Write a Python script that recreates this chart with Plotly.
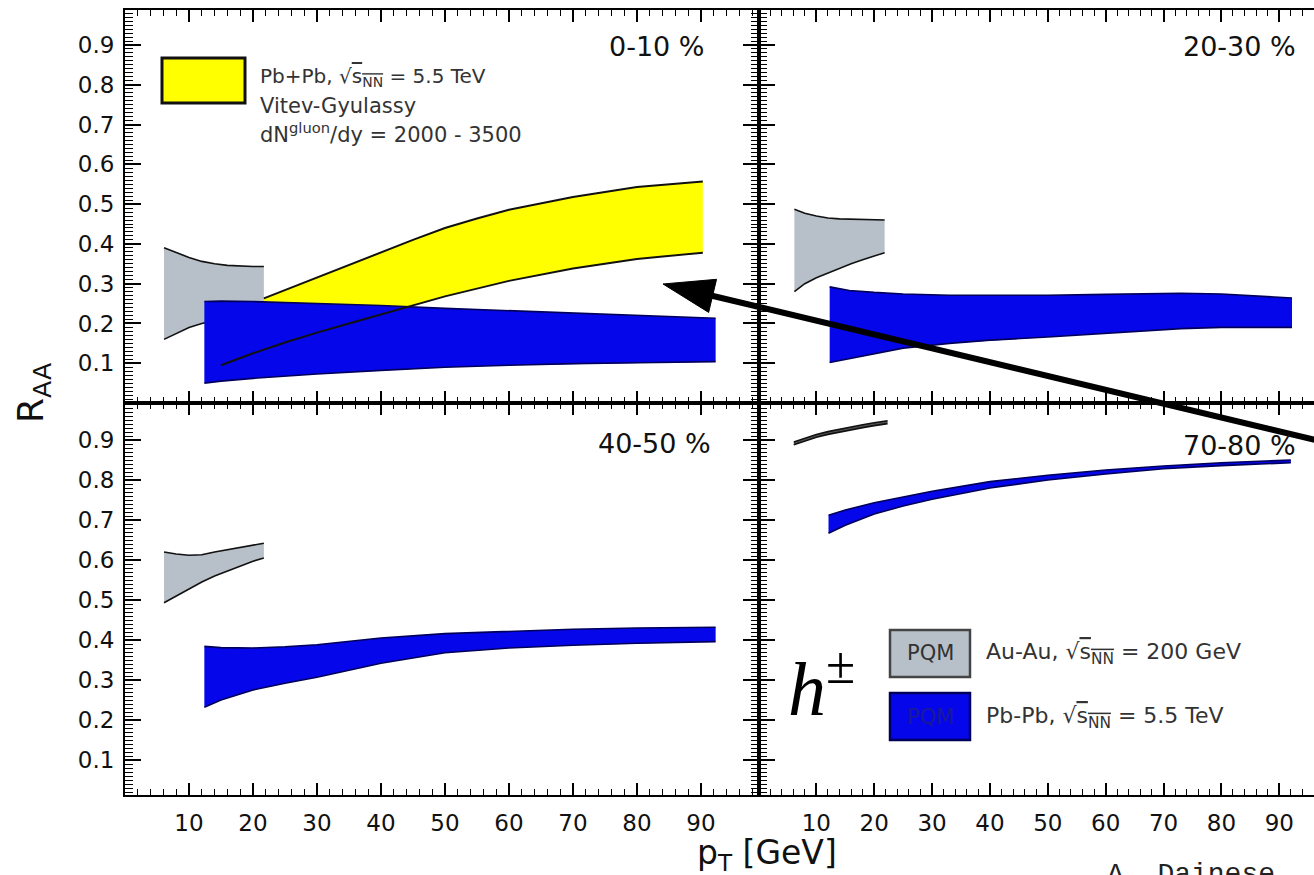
import plotly.graph_objects as go

# ---------------- data ----------------
# 0-10 %
auau_010_pt = [6.1, 8, 10, 12, 14, 16, 18, 20, 21.7]
auau_010_hi = [0.39, 0.378, 0.366, 0.356, 0.35, 0.346, 0.344, 0.343, 0.343]
auau_010_lo = [0.16, 0.175, 0.19, 0.2, 0.207, 0.212, 0.216, 0.22, 0.223]
pbpb_010_pt = [12.4, 15, 20, 30, 40, 50, 60, 70, 80, 92.3]
pbpb_010_hi = [0.255, 0.256, 0.255, 0.25, 0.245, 0.238, 0.232, 0.226, 0.22, 0.213]
pbpb_010_lo = [0.05, 0.055, 0.062, 0.073, 0.082, 0.09, 0.095, 0.099, 0.101, 0.104]
vg_hi_pt = [21.7, 25, 30, 35, 40, 45, 50, 55, 60, 70, 80, 90.3]
vg_hi = [0.263, 0.284, 0.316, 0.347, 0.378, 0.41, 0.44, 0.464, 0.486, 0.518, 0.543, 0.557]
vg_lo_pt = [15, 20, 25, 30, 35, 40, 45, 50, 60, 70, 80, 90.3]
vg_lo = [0.095, 0.125, 0.152, 0.177, 0.2, 0.222, 0.245, 0.268, 0.307, 0.338, 0.362, 0.378]

# 20-30 %
auau_2030_pt = [6.2, 8, 10, 12, 14, 16, 18, 20, 21.8]
auau_2030_hi = [0.487, 0.477, 0.47, 0.465, 0.463, 0.462, 0.461, 0.46, 0.46]
auau_2030_lo = [0.28, 0.3, 0.315, 0.327, 0.34, 0.35, 0.36, 0.37, 0.378]
pbpb_2030_pt = [12.3, 15.7, 20, 25, 33, 40, 50, 60, 73, 80, 88, 92.2]
pbpb_2030_hi = [0.292, 0.283, 0.278, 0.274, 0.271, 0.271, 0.271, 0.273, 0.276, 0.274, 0.268, 0.264]
pbpb_2030_lo = [0.102, 0.112, 0.125, 0.138, 0.15, 0.158, 0.166, 0.175, 0.187, 0.19, 0.19, 0.19]

# 40-50 %
auau_4050_pt = [6.1, 8, 10, 12, 14, 16, 18, 20, 21.7]
auau_4050_hi = [0.62, 0.615, 0.612, 0.613, 0.62, 0.626, 0.632, 0.638, 0.642]
auau_4050_lo = [0.493, 0.51, 0.527, 0.545, 0.56, 0.573, 0.585, 0.597, 0.605]
pbpb_4050_pt = [12.4, 15, 20, 25, 30, 35, 40, 50, 60, 70, 80, 92.3]
pbpb_4050_hi = [0.384, 0.381, 0.38, 0.383, 0.388, 0.396, 0.405, 0.416, 0.422, 0.427, 0.43, 0.432]
pbpb_4050_lo = [0.232, 0.25, 0.275, 0.292, 0.307, 0.325, 0.342, 0.368, 0.38, 0.387, 0.392, 0.396]

# 70-80 %
auau_7080_pt = [6.1, 8, 10, 12, 14, 16, 18, 20, 22.3]
auau_7080_hi = [0.895, 0.905, 0.914, 0.921, 0.927, 0.933, 0.938, 0.943, 0.948]
auau_7080_lo = [0.888, 0.898, 0.907, 0.914, 0.92, 0.926, 0.931, 0.936, 0.941]
pbpb_7080_pt = [12.1, 15, 20, 25, 30, 40, 50, 60, 70, 80, 92]
pbpb_7080_hi = [0.712, 0.725, 0.743, 0.758, 0.772, 0.796, 0.812, 0.825, 0.835, 0.843, 0.85]
pbpb_7080_lo = [0.667, 0.687, 0.715, 0.735, 0.752, 0.78, 0.80, 0.815, 0.828, 0.836, 0.843]

panel_labels = ["0-10 %", "20-30 %", "40-50 %", "70-80 %"]
x_tick_vals = [10, 20, 30, 40, 50, 60, 70, 80, 90]
x_tick_text = ["10", "20", "30", "40", "50", "60", "70", "80", "90"]
y_tick_vals = [0.1, 0.2, 0.3, 0.4, 0.5, 0.6, 0.7, 0.8, 0.9]
y_tick_text = ["0.1", "0.2", "0.3", "0.4", "0.5", "0.6", "0.7", "0.8", "0.9"]

# ---------------- styling ----------------
W, H = 1314, 875
ML, MR, MT, MB = 125, 0, 10, 80
PW, PH = W - ML - MR, H - MT - MB


def X(px):
    return (px - ML) / PW


def Y(py):
    return (H - MB - py) / PH


x_split = X(758.5)
y_split = Y(403)

YELLOW = "#ffff00"
GRAY = "#b7c0c8"
BLUE = "#0606ea"
NAVY = "#00005a"
TXT = "#111111"
SANS = "DejaVu Sans"

fig = go.Figure()


def band(pt, hi, lo, color, edge, xa, ya, edge_w=1.6, edges=True):
    fig.add_trace(go.Scatter(x=pt + pt[::-1], y=hi + lo[::-1], fill="toself",
                             fillcolor=color, mode="lines", line=dict(width=0),
                             xaxis=xa, yaxis=ya, hoverinfo="skip"))
    if edges:
        for yy in (hi, lo):
            fig.add_trace(go.Scatter(x=pt, y=yy, mode="lines",
                                     line=dict(color=edge, width=edge_w),
                                     xaxis=xa, yaxis=ya, hoverinfo="skip"))


def edge_line(pt, yy, color, w, xa, ya):
    fig.add_trace(go.Scatter(x=pt, y=yy, mode="lines", line=dict(color=color, width=w),
                             xaxis=xa, yaxis=ya, hoverinfo="skip"))


# top-left
fig.add_trace(go.Scatter(x=vg_hi_pt + vg_lo_pt[::-1], y=vg_hi + vg_lo[::-1], fill="toself",
                         fillcolor=YELLOW, mode="lines", line=dict(width=0),
                         xaxis="x", yaxis="y", hoverinfo="skip"))
band(auau_010_pt, auau_010_hi, auau_010_lo, GRAY, "#111111", "x", "y")
band(pbpb_010_pt, pbpb_010_hi, pbpb_010_lo, BLUE, NAVY, "x", "y")
edge_line(vg_hi_pt, vg_hi, "#111111", 2, "x", "y")
edge_line(vg_lo_pt, vg_lo, "#111111", 2, "x", "y")
# top-right
band(auau_2030_pt, auau_2030_hi, auau_2030_lo, GRAY, "#111111", "x2", "y2")
band(pbpb_2030_pt, pbpb_2030_hi, pbpb_2030_lo, BLUE, NAVY, "x2", "y2")
# bottom-left
band(auau_4050_pt, auau_4050_hi, auau_4050_lo, GRAY, "#111111", "x3", "y3")
band(pbpb_4050_pt, pbpb_4050_hi, pbpb_4050_lo, BLUE, NAVY, "x3", "y3")
# bottom-right
band(auau_7080_pt, auau_7080_hi, auau_7080_lo, "#555555", "#111111", "x4", "y4")
band(pbpb_7080_pt, pbpb_7080_hi, pbpb_7080_lo, BLUE, NAVY, "x4", "y4")

tickfont = dict(family=SANS, size=23, color=TXT)


def xax(domain, rng, labels, anchor):
    return dict(domain=domain, range=rng, anchor=anchor, showline=True, linecolor="black",
                linewidth=2, mirror="ticks", ticks="inside", ticklen=12, tickwidth=1.5,
                tickcolor="black", tickmode="array", tickvals=x_tick_vals,
                ticktext=x_tick_text, showticklabels=labels, tickfont=tickfont,
                ticklabelstandoff=6, showgrid=False, zeroline=False,
                minor=dict(dtick=2, tick0=0, ticks="inside", ticklen=6, tickwidth=1.2,
                           tickcolor="black", showgrid=False))


def yax(domain, rng, labels, anchor, mirror):
    return dict(domain=domain, range=rng, anchor=anchor, showline=True, linecolor="black",
                linewidth=2, mirror=mirror, ticks="inside", ticklen=16, tickwidth=1.5,
                tickcolor="black", tickmode="array", tickvals=y_tick_vals,
                ticktext=y_tick_text, showticklabels=labels, tickfont=tickfont,
                ticklabelstandoff=4, showgrid=False, zeroline=False,
                minor=dict(dtick=0.01, tick0=0, ticks="inside", ticklen=8, tickwidth=1.2,
                           tickcolor="black", showgrid=False))


top_rng = [0, 0.988]
bot_rng = [0.0125, 0.9925]
left_rng = [0, 99]
right_rng = [0, 96]

fig.update_layout(
    width=W, height=H, margin=dict(l=ML, r=MR, t=MT, b=MB),
    paper_bgcolor="white", plot_bgcolor="white", showlegend=False,
    xaxis=xax([0, x_split], left_rng, False, "y"),
    yaxis=yax([y_split, 1], top_rng, True, "x", "ticks"),
    xaxis2=xax([x_split, 1], right_rng, False, "y2"),
    yaxis2=yax([y_split, 1], top_rng, False, "x2", False),
    xaxis3=xax([0, x_split], left_rng, True, "y3"),
    yaxis3=yax([0, y_split], bot_rng, True, "x3", "ticks"),
    xaxis4=xax([x_split, 1], right_rng, True, "y4"),
    yaxis4=yax([0, y_split], bot_rng, False, "x4", False),
)

ann = []


def text(px, py, s, size=22, xanchor="left", yanchor="middle", family=SANS, color=TXT,
         angle=0):
    ann.append(dict(x=X(px), y=Y(py), xref="paper", yref="paper", text=s, showarrow=False,
                    xanchor=xanchor, yanchor=yanchor, textangle=angle,
                    font=dict(family=family, size=size, color=color)))


# panel labels
text(707, 47, panel_labels[0], 27, "right")
text(1298, 47, panel_labels[1], 27, "right")
text(713, 443, panel_labels[2], 27, "right")
text(1298, 445, panel_labels[3], 27, "right")

sq = "\u221a<span style='text-decoration:overline'>s<sub>NN</sub></span>"
# top-left legend
text(258, 77, "Pb+Pb, " + sq + " = 5.5 TeV", 20, color="#333333")
text(258, 106, "Vitev-Gyulassy", 21, color="#333333")
text(258, 133, "dN<sup>gluon</sup>/dy = 2000 - 3500", 21, color="#333333")

# bottom-right legend
text(930, 653, "PQM", 21, "center", color="#333333")
text(930, 717, "PQM", 21, "center", color="#1a1a9a")
text(984, 653, "Au-Au, " + sq + " = 200 GeV", 22, color="#333333")
text(984, 717, "Pb-Pb, " + sq + " = 5.5 TeV", 22, color="#333333")

text(786, 683, "<i>h</i><sup>\u00b1</sup>", 76, family="Liberation Serif", color="black")

# axis titles
text(33, 392, "R<sub>AA</sub>", 36, "center", angle=-90)
text(767, 854, "p<sub>T</sub> [GeV]", 33, "center")
text(1105, 857, "A. Dainese", 28, "left", "top", family="Liberation Mono", color="#222222")

shapes = [
    dict(type="rect", xref="paper", yref="paper", x0=X(162), x1=X(245), y0=Y(58), y1=Y(103),
         fillcolor=YELLOW, line=dict(color="#111111", width=3)),
    dict(type="rect", xref="paper", yref="paper", x0=X(890), x1=X(970), y0=Y(630), y1=Y(677),
         fillcolor=GRAY, line=dict(color="#444444", width=2.5)),
    dict(type="rect", xref="paper", yref="paper", x0=X(890), x1=X(970), y0=Y(693), y1=Y(740),
         fillcolor=BLUE, line=dict(color=NAVY, width=2.5)),
]

# arrow (tip at pixel 663,284 going off the right edge)
tip = (663.0, 284.0)
ux, uy = 0.9726, 0.2325
L, hw = 51.0, 17.0
c1 = (tip[0] + L * ux - hw * uy, tip[1] + L * uy + hw * ux)
c2 = (tip[0] + L * ux + hw * uy, tip[1] + L * uy - hw * ux)
start = (tip[0] + 45 * ux, tip[1] + 45 * uy)
end = (tip[0] + 700 * ux, tip[1] + 700 * uy)
shapes.append(dict(type="line", xref="paper", yref="paper", x0=X(start[0]), y0=Y(start[1]),
                   x1=X(end[0]), y1=Y(end[1]), line=dict(color="black", width=6)))
path = "M {:.5f},{:.5f} L {:.5f},{:.5f} L {:.5f},{:.5f} Z".format(
    X(tip[0]), Y(tip[1]), X(c1[0]), Y(c1[1]), X(c2[0]), Y(c2[1]))
shapes.append(dict(type="path", xref="paper", yref="paper", path=path, fillcolor="black",
                   line=dict(color="black", width=1)))

fig.update_layout(annotations=ann, shapes=shapes)

fig.write_html("out.html")
